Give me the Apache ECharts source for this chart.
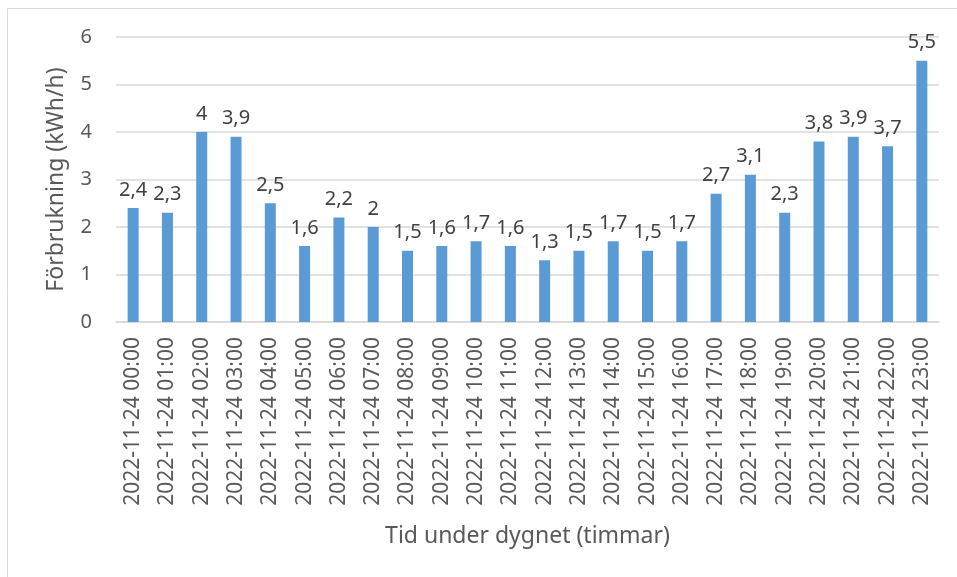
<!DOCTYPE html>
<html>
<head>
<meta charset="utf-8">
<script src="https://cdn.jsdelivr.net/npm/echarts@6/dist/echarts.min.js"></script>
<style>
  html, body { margin: 0; padding: 0; background: #ffffff; }
  #chart { width: 957px; height: 577px; }
</style>
</head>
<body>
<div id="chart"></div>
<script>
// Hourly consumption on 2022-11-24
const hours = [
  '2022-11-24 00:00', '2022-11-24 01:00', '2022-11-24 02:00', '2022-11-24 03:00',
  '2022-11-24 04:00', '2022-11-24 05:00', '2022-11-24 06:00', '2022-11-24 07:00',
  '2022-11-24 08:00', '2022-11-24 09:00', '2022-11-24 10:00', '2022-11-24 11:00',
  '2022-11-24 12:00', '2022-11-24 13:00', '2022-11-24 14:00', '2022-11-24 15:00',
  '2022-11-24 16:00', '2022-11-24 17:00', '2022-11-24 18:00', '2022-11-24 19:00',
  '2022-11-24 20:00', '2022-11-24 21:00', '2022-11-24 22:00', '2022-11-24 23:00'
];
const consumption = [
  2.4, 2.3, 4, 3.9, 2.5, 1.6, 2.2, 2, 1.5, 1.6, 1.7, 1.6,
  1.3, 1.5, 1.7, 1.5, 1.7, 2.7, 3.1, 2.3, 3.8, 3.9, 3.7, 5.5
];
const yTicks = [0, 1, 2, 3, 4, 5, 6];

const FONT = 'Noto Sans';
const chart = echarts.init(document.getElementById('chart'), null, { renderer: 'canvas' });

chart.setOption({
  backgroundColor: '#ffffff',
  animation: false,
  textStyle: { fontFamily: FONT },
  graphic: [{
    type: 'rect',
    shape: { x: 7.5, y: 8.5, width: 960, height: 580 },
    style: { fill: 'none', stroke: '#d9d9d9', lineWidth: 1 },
    silent: true,
    z: -1
  }],
  grid: { left: 116, right: 18, top: 37, bottom: 255, containLabel: false },
  xAxis: {
    type: 'category',
    data: hours,
    name: 'Tid under dygnet (timmar)',
    nameLocation: 'middle',
    nameGap: 203,
    nameTextStyle: { fontFamily: FONT, fontSize: 23, color: '#595959' },
    axisLine: { lineStyle: { color: '#d9d9d9', width: 1.5 } },
    axisTick: { show: false },
    axisLabel: {
      interval: 0,
      rotate: 90,
      margin: 15,
      fontFamily: FONT,
      fontSize: 21,
      color: '#595959'
    }
  },
  yAxis: {
    type: 'value',
    min: yTicks[0],
    max: yTicks[yTicks.length - 1],
    interval: 1,
    name: 'Förbrukning (kWh/h)',
    nameLocation: 'middle',
    nameGap: 48,
    nameRotate: 90,
    nameTextStyle: { fontFamily: FONT, fontSize: 23, color: '#595959' },
    axisLine: { show: false },
    axisTick: { show: false },
    axisLabel: {
      margin: 24,
      fontFamily: FONT,
      fontSize: 20,
      color: '#595959'
    },
    splitLine: { lineStyle: { color: '#d9d9d9', width: 1.5 } }
  },
  series: [{
    type: 'bar',
    data: consumption,
    barWidth: 11,
    itemStyle: { color: '#5b9bd5' },
    label: {
      show: true,
      position: 'top',
      distance: 8,
      fontFamily: FONT,
      fontSize: 20,
      color: '#404040',
      formatter: p => String(p.value).replace('.', ',')
    }
  }]
});
</script>
</body>
</html>
